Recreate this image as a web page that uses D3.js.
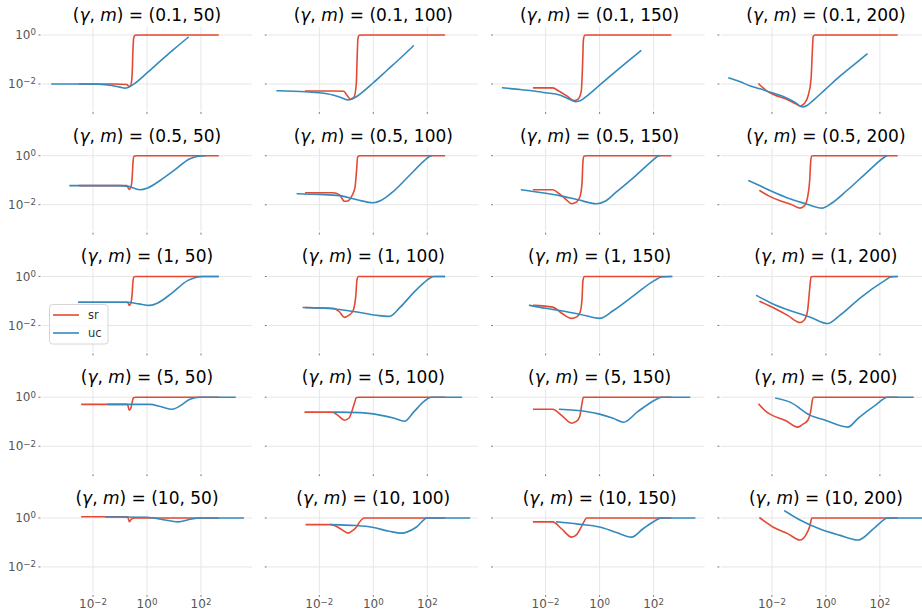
<!DOCTYPE html>
<html><head><meta charset="utf-8">
<script src="https://cdn.jsdelivr.net/npm/d3@7"></script>
<style>body{margin:0;background:#fff}svg{display:block}</style>
</head><body>
<svg id="chart" width="922" height="615"></svg>
<script>
// ---- data (values stored as base-10 exponents: [log10 x, log10 y]) ----
const gammas = ["0.1", "0.5", "1", "5", "10"];
const ms = ["50", "100", "150", "200"];
const xTickExps = [-2, 0, 2];
const yTickExps = [0, -2];
const seriesNames = ["sr", "uc"];
const seriesColors = ["#E24A33", "#348ABD"];

const srData = [
  // gamma 0.1
  [[-2.5,-2.0],[-1.2,-2.0],[-0.75,-2.02],[-0.66,-2.1],[-0.6,-2.05],[-0.55,-1.6],[-0.52,-0.6],[-0.49,-0.1],[-0.44,-0.01],[-0.3,0],[2.63,0]],
  [[-2.5,-2.29],[-1.5,-2.29],[-1.1,-2.3],[-0.95,-2.5],[-0.85,-2.62],[-0.72,-2.55],[-0.63,-2.0],[-0.6,-1.0],[-0.57,-0.15],[-0.52,-0.01],[-0.4,0],[2.63,0]],
  [[-2.44,-2.16],[-1.74,-2.16],[-1.5,-2.3],[-1.2,-2.5],[-0.95,-2.68],[-0.8,-2.62],[-0.68,-2.3],[-0.63,-1.2],[-0.6,-0.2],[-0.55,-0.01],[-0.45,0],[2.63,0]],
  [[-2.48,-2.0],[-2.2,-2.28],[-1.9,-2.45],[-1.5,-2.6],[-1.1,-2.82],[-0.95,-2.9],[-0.8,-2.8],[-0.65,-2.45],[-0.55,-1.8],[-0.5,-0.6],[-0.47,-0.05],[-0.4,0],[2.63,0]],
  // gamma 0.5
  [[-2.5,-1.22],[-0.75,-1.22],[-0.66,-1.38],[-0.6,-1.3],[-0.55,-0.9],[-0.52,-0.3],[-0.48,-0.02],[-0.4,0],[2.63,0]],
  [[-2.5,-1.51],[-1.5,-1.51],[-1.25,-1.6],[-1.07,-1.86],[-0.95,-1.85],[-0.8,-1.65],[-0.68,-1.3],[-0.62,-0.6],[-0.58,-0.05],[-0.5,0],[2.63,0]],
  [[-2.44,-1.39],[-1.74,-1.39],[-1.5,-1.55],[-1.25,-1.78],[-1.04,-1.96],[-0.85,-1.88],[-0.72,-1.65],[-0.65,-1.1],[-0.62,-0.3],[-0.58,-0.02],[-0.5,0],[2.63,0]],
  [[-2.44,-1.43],[-2.1,-1.65],[-1.7,-1.84],[-1.3,-1.98],[-0.96,-2.14],[-0.8,-2.05],[-0.68,-1.7],[-0.6,-1.0],[-0.56,-0.2],[-0.52,-0.01],[-0.45,0],[2.63,0]],
  // gamma 1
  [[-2.52,-1.05],[-0.72,-1.05],[-0.66,-1.18],[-0.6,-1.1],[-0.55,-0.7],[-0.52,-0.2],[-0.48,-0.01],[-0.4,0],[2.63,0]],
  [[-2.5,-1.27],[-1.5,-1.3],[-1.25,-1.45],[-1.07,-1.67],[-0.9,-1.58],[-0.75,-1.4],[-0.65,-0.8],[-0.6,-0.1],[-0.55,0],[2.63,0]],
  [[-2.44,-1.18],[-1.74,-1.25],[-1.4,-1.5],[-1.04,-1.71],[-0.85,-1.65],[-0.72,-1.45],[-0.65,-0.9],[-0.62,-0.2],[-0.57,0],[2.63,0]],
  [[-2.44,-1.02],[-1.89,-1.31],[-1.4,-1.6],[-0.96,-1.88],[-0.8,-1.78],[-0.68,-1.4],[-0.6,-0.5],[-0.55,-0.02],[-0.48,0],[2.63,0]],
  // gamma 5
  [[-2.41,-0.29],[-0.72,-0.29],[-0.66,-0.53],[-0.6,-0.45],[-0.55,-0.2],[-0.5,-0.02],[-0.42,0],[2.63,0]],
  [[-2.52,-0.61],[-1.52,-0.61],[-1.3,-0.75],[-1.07,-0.94],[-0.9,-0.85],[-0.8,-0.6],[-0.7,-0.25],[-0.63,-0.02],[-0.55,0],[2.63,0]],
  [[-2.44,-0.49],[-1.74,-0.49],[-1.4,-0.75],[-1.04,-1.06],[-0.85,-0.98],[-0.74,-0.8],[-0.66,-0.3],[-0.6,0],[2.63,0]],
  [[-2.48,-0.29],[-2.2,-0.6],[-2.0,-0.73],[-1.5,-0.95],[-1.04,-1.22],[-0.85,-1.1],[-0.67,-0.94],[-0.55,-0.5],[-0.5,-0.1],[-0.45,0],[2.63,0]],
  // gamma 10
  [[-2.41,0.05],[-0.72,0.05],[-0.65,-0.15],[-0.58,-0.05],[-0.45,0],[2.63,0]],
  [[-2.48,-0.27],[-1.56,-0.27],[-1.19,-0.46],[-0.93,-0.62],[-0.75,-0.5],[-0.63,-0.38],[-0.52,-0.18],[-0.33,0],[2.63,0]],
  [[-2.44,-0.16],[-1.74,-0.16],[-1.4,-0.45],[-1.04,-0.78],[-0.85,-0.68],[-0.74,-0.49],[-0.6,-0.2],[-0.48,0],[2.63,0]],
  [[-2.44,0],[-1.89,-0.41],[-1.4,-0.65],[-0.96,-0.9],[-0.74,-0.69],[-0.6,-0.35],[-0.52,0],[2.63,0]]
];

const ucData = [
  // gamma 0.1
  [[-3.52,-2.0],[-2.5,-2.0],[-1.8,-2.01],[-1.3,-2.06],[-1.0,-2.13],[-0.82,-2.17],[-0.7,-2.14],[-0.55,-2.05],[0,-1.55],[0.5,-1.06],[1.0,-0.58],[1.52,-0.1]],
  [[-3.56,-2.28],[-2.5,-2.32],[-2.0,-2.36],[-1.5,-2.45],[-1.2,-2.55],[-0.95,-2.65],[-0.8,-2.62],[-0.6,-2.5],[0,-1.95],[0.5,-1.45],[1.0,-0.95],[1.48,-0.45]],
  [[-3.59,-2.16],[-3.0,-2.22],[-2.5,-2.28],[-2.0,-2.36],[-1.48,-2.45],[-1.2,-2.58],[-0.89,-2.72],[-0.7,-2.68],[-0.5,-2.52],[0,-2.05],[0.5,-1.58],[1.0,-1.12],[1.52,-0.65]],
  [[-3.59,-1.76],[-3.2,-1.9],[-2.8,-2.08],[-2.44,-2.2],[-2.0,-2.36],[-1.5,-2.55],[-1.1,-2.78],[-0.89,-2.94],[-0.7,-2.88],[-0.5,-2.7],[0,-2.2],[0.5,-1.7],[1.0,-1.25],[1.52,-0.78]],
  // gamma 0.5
  [[-2.85,-1.22],[-1.0,-1.22],[-0.7,-1.25],[-0.5,-1.32],[-0.26,-1.39],[0,-1.33],[0.5,-1.0],[1.0,-0.6],[1.59,-0.12],[1.9,-0.02],[2.15,0]],
  [[-2.81,-1.55],[-2.0,-1.58],[-1.26,-1.63],[-0.6,-1.8],[0,-1.92],[0.3,-1.82],[0.7,-1.5],[1.3,-0.85],[1.89,-0.2],[2.05,-0.05],[2.15,0]],
  [[-2.89,-1.39],[-2.2,-1.5],[-1.48,-1.63],[-0.8,-1.8],[-0.11,-1.96],[0.2,-1.86],[0.6,-1.5],[1.3,-0.85],[2.04,-0.12],[2.15,-0.02],[2.22,0]],
  [[-2.85,-1.02],[-2.4,-1.25],[-1.8,-1.55],[-1.33,-1.76],[-0.7,-1.98],[-0.15,-2.14],[0.2,-1.95],[0.8,-1.4],[1.5,-0.7],[2.19,-0.04],[2.25,0]],
  // gamma 1
  [[-2.52,-1.05],[-0.7,-1.05],[-0.3,-1.12],[0.11,-1.18],[0.4,-1.08],[0.9,-0.7],[1.52,-0.16],[1.8,-0.04],[2.1,0],[2.63,0]],
  [[-2.59,-1.27],[-1.26,-1.35],[-0.5,-1.47],[0.2,-1.6],[0.59,-1.63],[1.0,-1.25],[1.5,-0.65],[1.89,-0.24],[2.1,-0.06],[2.26,0],[2.63,0]],
  [[-2.59,-1.18],[-2.0,-1.3],[-1.48,-1.39],[-0.7,-1.55],[0,-1.71],[0.5,-1.4],[1.3,-0.75],[2.04,-0.16],[2.3,-0.02],[2.67,0]],
  [[-2.56,-0.78],[-2.0,-1.1],[-1.33,-1.39],[-0.6,-1.65],[0.07,-1.92],[0.5,-1.6],[1.3,-0.85],[2.19,-0.16],[2.4,-0.02],[2.63,0]],
  // gamma 5
  [[-1.44,-0.29],[0.11,-0.29],[0.5,-0.38],[0.93,-0.49],[1.3,-0.3],[1.59,-0.08],[1.96,0],[3.26,0]],
  [[-1.44,-0.61],[-0.5,-0.63],[0.2,-0.72],[0.78,-0.86],[1.15,-0.98],[1.5,-0.6],[1.89,-0.16],[2.15,0],[3.26,0]],
  [[-1.48,-0.49],[-0.5,-0.58],[0,-0.69],[0.5,-0.86],[0.89,-1.02],[1.4,-0.6],[2.04,-0.12],[2.3,0],[3.33,0]],
  [[-1.85,-0.04],[-1.33,-0.2],[-0.59,-0.73],[0,-0.95],[0.81,-1.22],[1.2,-0.85],[1.8,-0.35],[2.3,0],[3.22,0]],
  // gamma 10
  [[-1.52,0.04],[0,0.03],[0.6,-0.07],[1.15,-0.16],[1.6,-0.05],[1.96,0],[3.56,0]],
  [[-1.56,-0.27],[-0.63,-0.31],[-0.04,-0.38],[0.59,-0.54],[1.04,-0.62],[1.59,-0.38],[2.0,0],[3.56,0]],
  [[-1.59,-0.16],[-0.8,-0.25],[0,-0.37],[0.6,-0.58],[1.19,-0.78],[1.6,-0.45],[2.04,-0.12],[2.3,0],[3.52,0]],
  [[-1.52,0.29],[-0.96,-0.08],[-0.22,-0.45],[0.5,-0.7],[1.19,-0.9],[1.8,-0.4],[2.3,0],[3.56,0]]
];

// ---- layout ----
const xDomainExp = [-3.89, 3.89];
const yDomainExp = [-3.08, 0.33];
const panelW = 210, panelH = 83.5;
const colLeft = c => 42 + 226.3 * c;
const rowTop = r => 26.9 + 120.75 * r;
const font = "DejaVu Sans, sans-serif";
const gridColor = "#e6e6e6", tickColor = "#555555", labelColor = "#555555";

const svg = d3.select("#chart");
const defs = svg.append("defs");

function supLabel(sel, exp) {
  sel.append("tspan").text("10");
  sel.append("tspan").attr("dy", "-0.45em").attr("font-size", "0.72em")
    .text(exp < 0 ? "\u2212" + Math.abs(exp) : String(exp));
}

const nRows = gammas.length, nCols = ms.length;
for (let r = 0; r < nRows; r++) {
  for (let c = 0; c < nCols; c++) {
    const idx = r * nCols + c;
    const left = colLeft(c), top = rowTop(r);
    const x = d3.scaleLog().domain(xDomainExp.map(e => Math.pow(10, e))).range([left, left + panelW]);
    const y = d3.scaleLog().domain(yDomainExp.map(e => Math.pow(10, e))).range([top + panelH, top]);
    const g = svg.append("g");
    const clipId = "clip" + idx;
    defs.append("clipPath").attr("id", clipId).append("rect")
      .attr("x", left).attr("y", top).attr("width", panelW).attr("height", panelH);

    // grid
    g.selectAll(".vg").data(xTickExps).join("line")
      .attr("x1", d => x(Math.pow(10, d))).attr("x2", d => x(Math.pow(10, d)))
      .attr("y1", top).attr("y2", top + panelH)
      .attr("stroke", gridColor).attr("stroke-width", 1);
    g.selectAll(".hg").data(yTickExps).join("line")
      .attr("y1", d => y(Math.pow(10, d))).attr("y2", d => y(Math.pow(10, d)))
      .attr("x1", left).attr("x2", left + panelW)
      .attr("stroke", gridColor).attr("stroke-width", 1);

    // y ticks (marks on every panel, labels on first column)
    yTickExps.forEach(e => {
      const yy = y(Math.pow(10, e));
      g.append("line").attr("x1", left - 3.5).attr("x2", left - 1.5).attr("y1", yy).attr("y2", yy)
        .attr("stroke", tickColor).attr("stroke-width", 0.8);
      if (c === 0) {
        const t = g.append("text").attr("x", left - 6).attr("y", yy + 4.2)
          .attr("text-anchor", "end").attr("font-family", font).attr("font-size", 12)
          .attr("fill", labelColor);
        supLabel(t, e);
      }
    });
    // x ticks
    xTickExps.forEach(e => {
      const xx = x(Math.pow(10, e));
      g.append("line").attr("x1", xx).attr("x2", xx).attr("y1", top + panelH + 1.5).attr("y2", top + panelH + 3.5)
        .attr("stroke", tickColor).attr("stroke-width", 0.8);
      if (r === nRows - 1) {
        const t = g.append("text").attr("x", xx).attr("y", top + panelH + 15)
          .attr("text-anchor", "middle").attr("font-family", font).attr("font-size", 12)
          .attr("fill", labelColor);
        supLabel(t, e);
      }
    });

    // title
    const title = g.append("text").attr("x", left + panelW / 2).attr("y", top - 6)
      .attr("text-anchor", "middle").attr("font-family", font).attr("font-size", 17).attr("fill", "#000");
    title.append("tspan").text("(");
    title.append("tspan").attr("font-style", "italic").text("\u03b3");
    title.append("tspan").text(", ");
    title.append("tspan").attr("font-style", "italic").text("m");
    title.append("tspan").text(") = (" + gammas[r] + ", " + ms[c] + ")");

    // lines
    const line = d3.line()
      .x(d => x(Math.pow(10, d[0])))
      .y(d => y(Math.pow(10, d[1])))
      .curve(d3.curveMonotoneX);
    const lg = g.append("g").attr("clip-path", "url(#" + clipId + ")");
    [srData[idx], ucData[idx]].forEach((data, k) => {
      lg.append("path").datum(data).attr("d", line)
        .attr("fill", "none").attr("stroke", seriesColors[k]).attr("stroke-width", 1.6)
        .attr("stroke-linejoin", "round").attr("stroke-linecap", "square");
    });
  }
}

// legend (in gamma=1, m=50 panel)
const leg = svg.append("g");
leg.append("rect").attr("x", 49.5).attr("y", 304.5).attr("width", 58.5).attr("height", 39.5)
  .attr("rx", 3).attr("fill", "#fff").attr("fill-opacity", 0.8).attr("stroke", "#cccccc").attr("stroke-width", 0.8);
seriesNames.forEach((name, k) => {
  const yy = 315 + 18 * k;
  leg.append("line").attr("x1", 53).attr("x2", 79).attr("y1", yy).attr("y2", yy)
    .attr("stroke", seriesColors[k]).attr("stroke-width", 1.6);
  leg.append("text").attr("x", 88).attr("y", yy + 4).attr("font-family", font).attr("font-size", 11.5)
    .attr("fill", "#333").text(name);
});
</script>
</body></html>
